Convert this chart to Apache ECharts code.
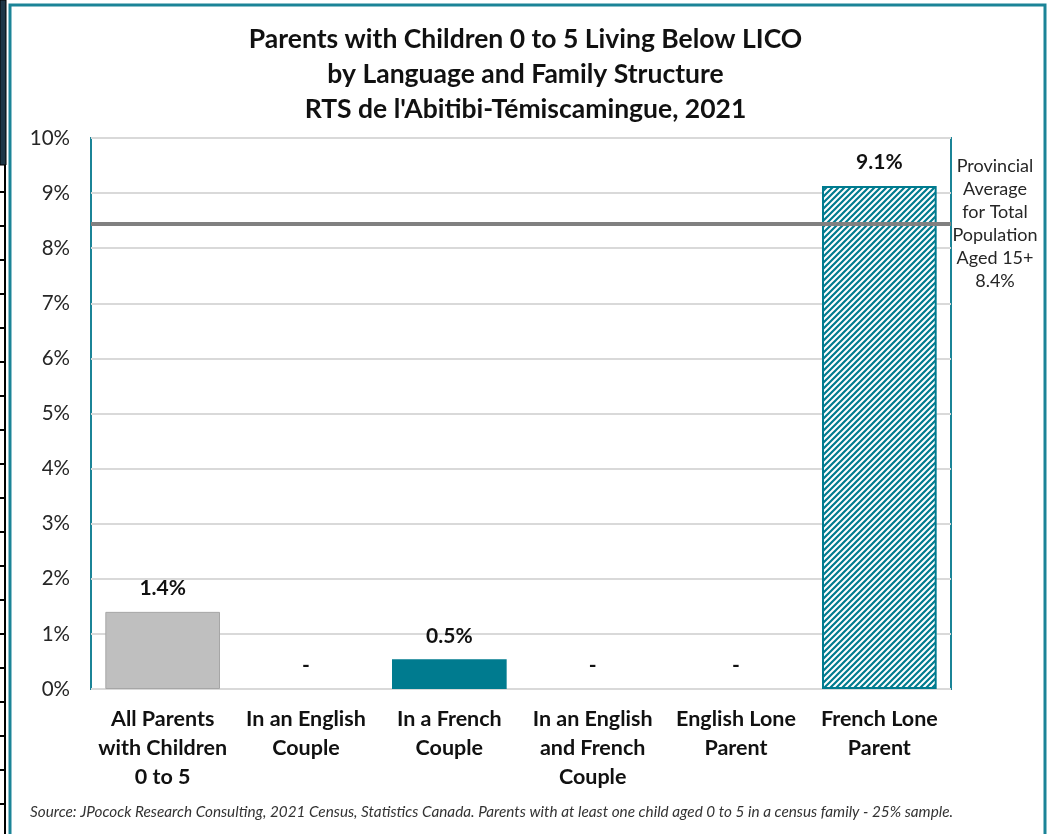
<!DOCTYPE html>
<html>
<head>
<meta charset="utf-8">
<script src="https://cdn.jsdelivr.net/npm/echarts@6/dist/echarts.min.js"></script>
<style>
  html, body { margin: 0; padding: 0; background: #fff; }
  #chart { width: 1051px; height: 834px; }
</style>
</head>
<body>
<div id="chart"></div>
<script>
// data
var categories = ['All Parents\nwith Children\n0 to 5', 'In an English\nCouple', 'In a French\nCouple',
                  'In an English\nand French\nCouple', 'English Lone\nParent', 'French Lone\nParent'];
var values = [1.4, 0, 0.54, 0, 0, 9.13];
var provAvg = 8.45;
var provAvgText = '8.4%';
var yTicks = [0, 10, 1]; // min, max, step

var teal = '#007B8F';

// hatch pattern for the last bar
var tile = document.createElement('canvas');
tile.width = 6; tile.height = 6;
var ctx = tile.getContext('2d');
ctx.fillStyle = '#fff';
ctx.fillRect(0, 0, 6, 6);
ctx.strokeStyle = teal;
ctx.lineWidth = 2.2;
ctx.beginPath();
ctx.moveTo(-1, 7); ctx.lineTo(7, -1);
ctx.moveTo(-1, 1); ctx.lineTo(1, -1);
ctx.moveTo(5, 7); ctx.lineTo(7, 5);
ctx.stroke();

var styles = [
  { color: '#BFBFBF', borderColor: '#A6A6A6', borderWidth: 1 },
  { color: teal },
  { color: teal },
  { color: teal },
  { color: teal },
  { color: { image: tile, repeat: 'repeat' }, borderColor: teal, borderWidth: 2 }
];

var barData = [];
for (var i = 0; i < values.length; i++) {
  barData.push({ value: values[i], itemStyle: styles[i] });
}

var font = 'Lato, "Open Sans", sans-serif';

// left side decoration (ruler strip) + outer frame + source note
var deco = [
  { type: 'rect', shape: { x: 0, y: 0, width: 6, height: 165 }, style: { fill: '#1d3646', stroke: '#000', lineWidth: 1 } },
  { type: 'line', shape: { x1: 5, y1: 165, x2: 5, y2: 834 }, style: { stroke: '#000', lineWidth: 2 } }
];
for (var t = 192; t < 834; t += 34) {
  deco.push({ type: 'line', shape: { x1: 0, y1: t, x2: 5, y2: t }, style: { stroke: '#000', lineWidth: 2 } });
}
deco.push({ type: 'rect', shape: { x: 10, y: 5, width: 1035, height: 840 }, style: { fill: null, stroke: '#1B8497', lineWidth: 3 } });
deco.push({
  type: 'text', left: 30, top: 805,
  style: {
    text: 'Source: JPocock Research Consulting, 2021 Census, Statistics Canada. Parents with at least one child aged 0 to 5 in a census family - 25% sample.',
    font: 'italic 15.3px ' + font, fill: '#333'
  }
});

var chart = echarts.init(document.getElementById('chart'));
var option = {
  backgroundColor: '#fff',
  animation: false,
  title: {
    text: "Parents with Children 0 to 5 Living Below LICO\nby Language and Family Structure\nRTS de l'Abitibi-Témiscamingue, 2021",
    left: 'center', top: 17,
    textStyle: { fontFamily: font, fontWeight: 'bold', fontSize: 26.5, lineHeight: 35, color: '#111' }
  },
  grid: { left: 91, right: 100, top: 138, bottom: 145, show: true, borderColor: '#1B8497', borderWidth: 2, backgroundColor: 'transparent' },
  xAxis: {
    type: 'category',
    data: categories,
    axisLine: { show: false },
    axisTick: { show: false },
    axisLabel: { interval: 0, margin: 16, fontFamily: font, fontWeight: 'bold', fontSize: 21.5, lineHeight: 29, color: '#111' }
  },
  yAxis: {
    type: 'value',
    min: yTicks[0], max: yTicks[1], interval: yTicks[2],
    axisLine: { show: false },
    axisTick: { show: false },
    splitLine: { lineStyle: { color: '#D9D9D9', width: 2 } },
    axisLabel: { formatter: '{value}%', margin: 21, fontFamily: font, fontSize: 20.5, color: '#262626' }
  },
  series: [{
    type: 'bar',
    data: barData,
    barCategoryGap: '20%',
    label: {
      show: true, position: 'top', distance: 13,
      fontFamily: font, fontWeight: 'bold', fontSize: 21, color: '#111',
      formatter: function (p) { return p.value > 0 ? p.value.toFixed(1) + '%' : '-'; }
    },
    markLine: {
      silent: true,
      symbol: 'none',
      lineStyle: { color: '#808080', width: 4, type: 'solid' },
      label: {
        position: 'end', distance: 44, align: 'center',
        fontFamily: font, fontSize: 18, lineHeight: 23, color: '#262626',
        formatter: 'Provincial\nAverage\nfor Total\nPopulation\nAged 15+\n' + provAvgText
      },
      data: [{ yAxis: provAvg }]
    }
  }],
  graphic: deco
};
chart.setOption(option);
</script>
</body>
</html>
